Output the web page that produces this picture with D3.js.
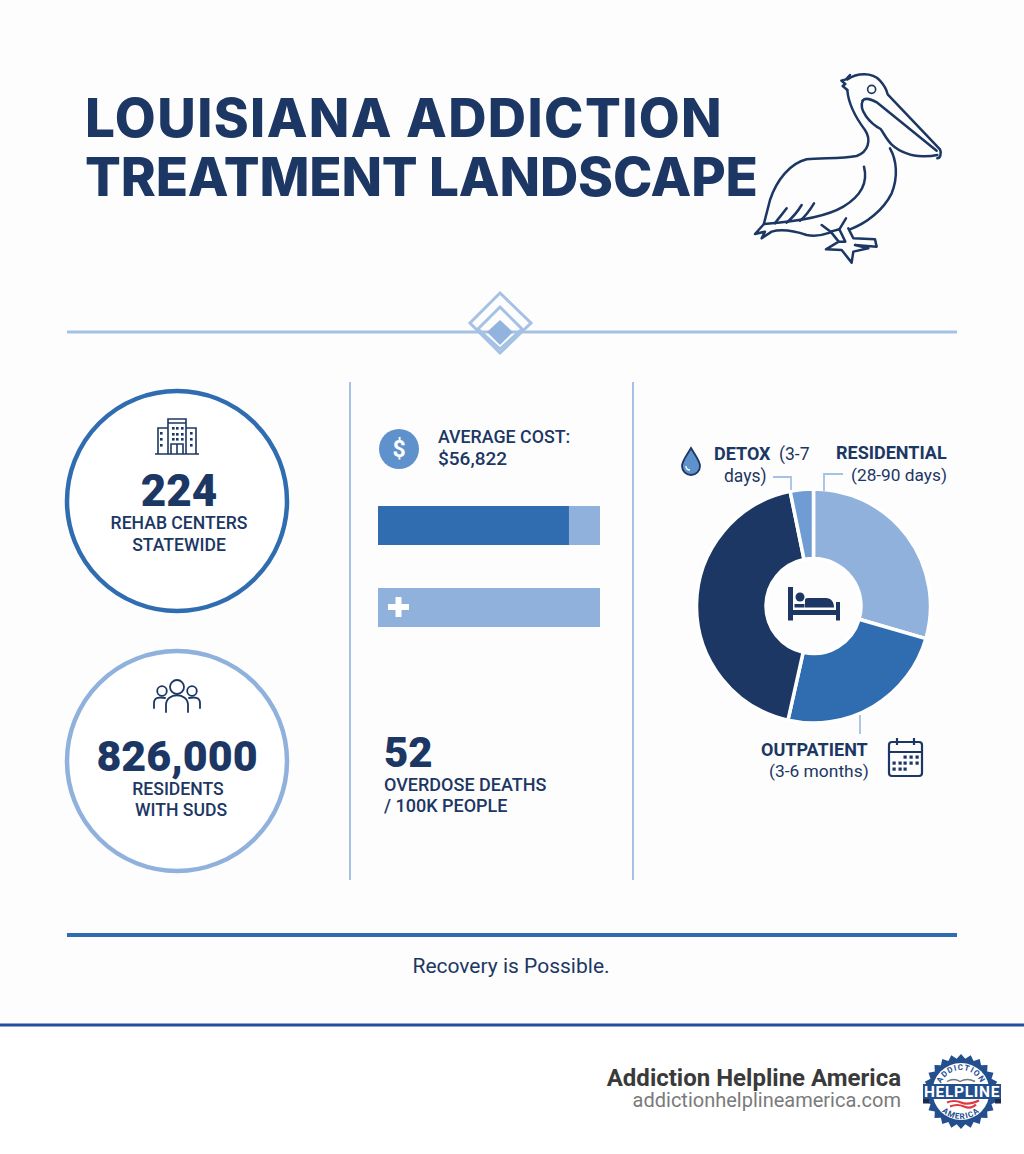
<!DOCTYPE html>
<html><head><meta charset="utf-8">
<script src="https://cdnjs.cloudflare.com/ajax/libs/d3/7.9.0/d3.min.js"></script>
<style>html,body{margin:0;padding:0;background:#fdfdfe}svg{display:block}text{font-family:Roboto,sans-serif}</style>
</head><body><svg id="c" width="1024" height="1154"></svg>
<script>
const titleLines=["LOUISIANA ADDICTION","TREATMENT LANDSCAPE"];
const statValues=["224","826,000"];
const statLabels=[["REHAB CENTERS","STATEWIDE"],["RESIDENTS","WITH SUDS"]];
const costBarTotals=[100,100];
const costBarValues=[86,0];
const stayCategories=["Residential","Outpatient","Long-term","Detox"];
const stayShares=[29.5,24,43.3,3.2];
const navy="#1c3763",mid="#2f6cb0",light="#8fb1dc",med="#5f92cc",rule="#a5c1e4";
const stayColors=[light,mid,navy,"#6f9dd3"];
const svg=d3.select("#c");
const txt=(t,x,y,s,w,o={})=>svg.append("text").attr("x",x).attr("y",y).attr("font-size",s).attr("font-weight",w)
  .attr("fill",o.fill||navy).attr("text-anchor",o.a||"start").style("letter-spacing",o.ls||null).style("font-family",o.ff||null).text(t);

// title
titleLines.forEach((t,i)=>txt(t,85,[137,196][i],53,800,{ff:"Inter",ls:["1.4px","-0.15px"][i]}));

// pelican
const pel=svg.append("g").attr("transform","translate(740,60) scale(0.3333)").attr("fill","none").attr("stroke",navy)
  .attr("stroke-width",7.5).attr("stroke-linejoin","round").attr("stroke-linecap","round");
["M330,45 L318,58 L304,62 L316,72 L308,78 L322,90",
 "M322,58 C350,40 395,35 420,62 C432,75 440,90 443,103 L600,268 C606,280 600,295 592,295",
 "M368,122 C375,112 395,118 412,128 L590,272",
 "M368,122 C355,150 390,190 422,207 C440,232 448,262 500,280 C530,292 570,290 592,285",
 "M322,90 C325,130 345,170 375,210 C395,240 385,275 350,288 C300,298 240,292 200,298 C150,310 110,360 90,420 L72,490",
 "M450,265 C470,300 475,350 455,400 C430,450 380,490 330,508",
 "M372,320 C385,370 360,410 310,440 C260,470 170,485 72,492",
 "M140,445 C125,465 115,475 105,490","M185,435 C170,460 155,475 140,488","M222,430 C210,450 195,470 180,482",
 "M72,492 L45,522 L75,515 L65,535 L95,515 C130,505 170,515 200,525 C225,530 250,525 270,518",
 "M245,495 L272,515 L296,545 L258,568 L305,570 L335,608 L340,575 L385,565 L345,555 L410,560 L405,538 L340,535 L325,505",
 "M272,515 L298,508 L316,545 L296,545","M298,508 L318,475"
].forEach(d=>pel.append("path").attr("d",d));
pel.append("circle").attr("cx",395).attr("cy",88).attr("r",12).attr("stroke-width",5);

// divider
svg.append("line").attr("x1",67).attr("x2",957).attr("y1",332).attr("y2",332).attr("stroke",rule).attr("stroke-width",3);
svg.append("path").attr("d","M500,293 L531,323 L500,353 L470,323Z").attr("fill","none").attr("stroke",rule).attr("stroke-width",3);
svg.append("path").attr("d","M500,307 L522,329 L500,349 L478,329Z").attr("fill","none").attr("stroke",rule).attr("stroke-width",3);
svg.append("path").attr("d","M500,320 L513,332 L500,345 L487,332Z").attr("fill","#92b3dd");

// column rules
[350,633].forEach(x=>svg.append("line").attr("x1",x).attr("x2",x).attr("y1",382).attr("y2",880).attr("stroke",rule).attr("stroke-width",2));

// stat circles
[[177,501,mid],[177,761,light]].forEach(([x,y,c])=>svg.append("circle").attr("cx",x).attr("cy",y).attr("r",110).attr("fill","#fff").attr("stroke",c).attr("stroke-width",4.5));
txt(statValues[0],179,506,44,900,{a:"middle"});
txt(statLabels[0][0],179,529,17.6,500,{a:"middle"});
txt(statLabels[0][1],179,551,17.6,500,{a:"middle"});
txt(statValues[1],177,771,43,900,{a:"middle"});
txt(statLabels[1][0],178,795,17.6,500,{a:"middle"});
txt(statLabels[1][1],181,816,17.6,500,{a:"middle"});

// building icon
const b=svg.append("g").attr("fill","none").attr("stroke",navy).attr("stroke-width",1.6);
b.append("path").attr("d","M155,454 H199 M158,454 V428 H168 M196,454 V428 H186 M168,454 V419 H186 V454 M168,423 H186 M171,454 V444 H183 V454 M177,444 V454");
const win=[[160,432],[160,438],[160,444],[190,432],[190,438],[190,444],[172,427],[176,427],[181,427],[172,433],[176,433],[181,433],[172,438],[176,438],[181,438]];
svg.append("g").selectAll("rect").data(win).join("rect").attr("x",d=>d[0]).attr("y",d=>d[1]).attr("width",2.6).attr("height",2.6).attr("fill",navy);

// people icon
const p=svg.append("g").attr("fill","none").attr("stroke",navy).attr("stroke-width",1.8).attr("stroke-linecap","round");
p.append("circle").attr("cx",177).attr("cy",687).attr("r",7);
p.append("circle").attr("cx",162).attr("cy",691).attr("r",4.8);
p.append("circle").attr("cx",192).attr("cy",691).attr("r",4.8);
p.append("path").attr("d","M166,712 V705 C166,692 188,692 188,705 V712 M154,708 V703 C154,697 160,697 165,698 M200,708 V703 C200,697 194,697 189,698");

// cost
svg.append("circle").attr("cx",399).attr("cy",449).attr("r",20).attr("fill",med);
txt("$",399,457,23,700,{a:"middle",fill:"#fff"});
txt("AVERAGE COST:",438,443,17.8,500);
txt("$56,822",438,465,19,500);
const xb=d3.scaleLinear().domain([0,100]).range([378,600]);
const rows=[506,588];
svg.append("g").selectAll("rect").data(costBarTotals).join("rect").attr("x",xb(0)).attr("y",(d,i)=>rows[i]).attr("width",d=>xb(d)-xb(0)).attr("height",39).attr("fill",light);
svg.append("g").selectAll("rect").data(costBarValues).join("rect").attr("x",xb(0)).attr("y",(d,i)=>rows[i]).attr("width",d=>xb(d)-xb(0)).attr("height",39).attr("fill",mid);
svg.append("path").attr("d","M398.5,597 V617 M388,607 H409").attr("stroke","#fff").attr("stroke-width",6);

txt("52",384,767,42,900);
txt("OVERDOSE DEATHS",384,791,18,500);
txt("/ 100K PEOPLE",384,812,18,500);

// donut
const arcs=d3.pie().sort(null).value(d=>d)(stayShares);
const arc=d3.arc().innerRadius(47.5).outerRadius(117);
svg.append("g").attr("transform","translate(813.5,606)").selectAll("path").data(arcs).join("path")
  .attr("d",arc).attr("fill",(d,i)=>stayColors[i]).attr("stroke","#fff").attr("stroke-width",3.5);

// bed icon
const bed=svg.append("g").attr("fill",navy);
bed.append("path").attr("d","M788,587 H793 V610 H836 V602 H840 V620.5 H836 V615 H793 V620.5 H788Z");
bed.append("circle").attr("cx",800).attr("cy",597).attr("r",4.5);
bed.append("path").attr("d","M805,607.5 V600 C805,598 807,598 810,598 L826,598 C831,598 834,602 834,607.5Z");
bed.append("rect").attr("x",794.5).attr("y",604).attr("width",10).attr("height",3.5);

// labels
svg.append("path").attr("d","M691,448 C695,455 700,461 700,466 A9,9 0 0 1 682,466 C682,461 687,455 691,448Z").attr("fill",med).attr("stroke",navy).attr("stroke-width",1.8);
svg.append("path").attr("d","M686,466 C686,469 688,470 690,470").attr("fill","none").attr("stroke","#fff").attr("stroke-width",1.4);
txt("DETOX",714,460,18,700);txt("(3-7",779,460,17.5,400);txt("days)",724,482,17.5,400);
txt("RESIDENTIAL",836,459,18,700);txt("(28-90 days)",851,481,17.3,400);
txt("OUTPATIENT",761,756,18,700);txt("(3-6 months)",769,777,17.4,400);
svg.append("path").attr("d","M773,477 H791 V490 M843,474 H824 V491 M860,715 V734").attr("fill","none").attr("stroke",rule).attr("stroke-width",1.8);

// calendar
const cal=svg.append("g").attr("fill","none").attr("stroke",navy).attr("stroke-width",2.2);
cal.append("rect").attr("x",889).attr("y",742).attr("width",33).attr("height",34).attr("rx",3);
cal.append("path").attr("d","M889,752 H922 M897,738 V745 M914,738 V745");
const dots=[[905,757],[911,757],[917,757],[894,763],[900,763],[905,763],[911,763],[917,763],[894,769],[900,769],[905,769]];
svg.append("g").selectAll("rect").data(dots).join("rect").attr("x",d=>d[0]-1.5).attr("y",d=>d[1]-1.5).attr("width",3.2).attr("height",3.2).attr("fill",navy);

// bottom
svg.append("line").attr("x1",67).attr("x2",957).attr("y1",935).attr("y2",935).attr("stroke",mid).attr("stroke-width",4);
txt("Recovery is Possible.",511,973,21,400,{a:"middle"});
svg.append("rect").attr("x",0).attr("y",1024).attr("width",1024).attr("height",130).attr("fill","#fff");
svg.append("line").attr("x1",0).attr("x2",1024).attr("y1",1025).attr("y2",1025).attr("stroke","#234f9f").attr("stroke-width",3);
txt("Addiction Helpline America",901,1086,24,700,{a:"end",fill:"#3a3a3a"});
txt("addictionhelplineamerica.com",901,1107,20,400,{a:"end",fill:"#7a7a7a"});

// badge
const n=24;
const star=d3.range(n*2).map(i=>[i*Math.PI/n,i%2?33:37.5]);
const bg=svg.append("g").attr("transform","translate(961,1091.5)");
bg.append("path").attr("d",d3.lineRadial().curve(d3.curveLinearClosed)(star)).attr("fill","#234f8f");
bg.append("circle").attr("r",28.5).attr("fill","#fff");
const defs=svg.append("defs");
defs.append("path").attr("id","arcT").attr("d","M-21.5,0 A21.5,21.5 0 0 1 21.5,0");
defs.append("path").attr("id","arcB").attr("d","M-27.5,0 A27.5,27.5 0 0 0 27.5,0");
bg.append("text").attr("font-size",8).attr("font-weight",700).attr("fill","#234f8f").attr("text-anchor","middle").append("textPath").attr("href","#arcT").attr("startOffset","50%").style("letter-spacing","1px").text("ADDICTION");
bg.append("text").attr("font-size",8).attr("font-weight",700).attr("fill","#234f8f").attr("text-anchor","middle").append("textPath").attr("href","#arcB").attr("startOffset","50%").style("letter-spacing","1px").text("AMERICA");
bg.append("path").attr("d","M-14,-10 Q-7,-14 -1,-10 Q6,-14 14,-10").attr("fill","none").attr("stroke","#777").attr("stroke-width",1.4);
bg.append("rect").attr("x",-38).attr("y",-7.5).attr("width",78).attr("height",15).attr("fill","#234f8f");
bg.append("path").attr("d","M-38,7.5 H-32 V12 H-38Z M34,7.5 H40 V12 H34Z").attr("fill","#1c2b4a");
bg.append("text").attr("y",5.5).attr("x",1).attr("font-size",15.5).attr("font-weight",700).attr("fill","#fff").attr("text-anchor","middle").style("letter-spacing","0.7px").text("HELPLINE");
bg.append("path").attr("d","M-14,11 Q-7,8 0,11 T18,9 M-11,15 Q-4,12 3,15 T15,13").attr("fill","none").attr("stroke","#e0393e").attr("stroke-width",2.2);
</script></body></html>
